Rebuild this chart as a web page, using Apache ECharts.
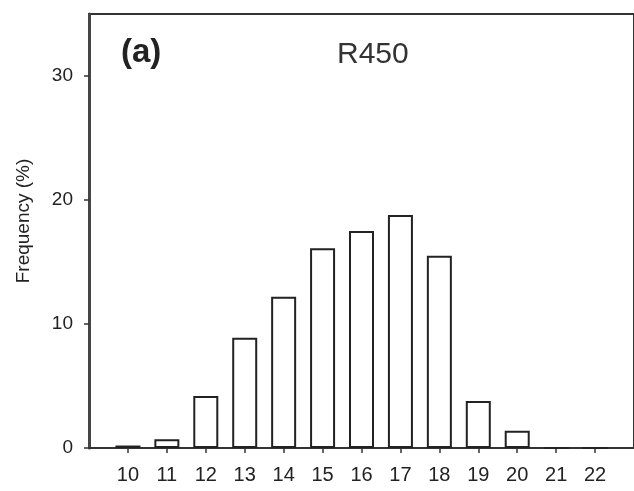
<!DOCTYPE html>
<html>
<head>
<meta charset="utf-8">
<script src="https://cdn.jsdelivr.net/npm/echarts@6/dist/echarts.min.js"></script>
<style>html,body{margin:0;padding:0;background:#fff;}#c{width:634px;height:491px;}</style>
</head>
<body>
<div id="c"></div>
<script>
var categories = [10, 11, 12, 13, 14, 15, 16, 17, 18, 19, 20, 21, 22];
var frequency = [0.2, 0.7, 4.2, 8.9, 12.2, 16.1, 17.5, 18.8, 15.5, 3.8, 1.4, 0, 0];
var yTicks = [0, 10, 20, 30];
var panelLabel = '(a)';
var titleText = 'R450';
var yAxisName = 'Frequency (%)';

var chart = echarts.init(document.getElementById('c'), null, {renderer: 'canvas'});
var font = 'Liberation Sans, Arial, sans-serif';
chart.setOption({
  animation: false,
  backgroundColor: '#fff',
  grid: {left: 89, top: 14, width: 546, bottom: 43, show: true, borderColor: '#333', borderWidth: 2, backgroundColor: 'transparent'},
  xAxis: {
    type: 'value', min: 9, max: 23, interval: 1,
    splitLine: {show: false},
    axisLine: {show: true, lineStyle: {color: '#333', width: 2}},
    axisTick: {show: true, length: 5, lineStyle: {color: '#333', width: 1.5}, customValues: categories},
    axisLabel: {customValues: categories, color: '#222', fontFamily: font, fontSize: 20, margin: 17,
      formatter: function (v) { return categories.indexOf(v) >= 0 ? String(v) : ''; }}
  },
  yAxis: {
    type: 'value', min: 0, max: 35, interval: 10,
    splitLine: {show: false},
    axisLine: {show: true, lineStyle: {color: '#444', width: 3}},
    axisTick: {show: true, length: 5, lineStyle: {color: '#333', width: 1.5}, customValues: yTicks},
    axisLabel: {customValues: yTicks, color: '#222', fontFamily: font, fontSize: 19, margin: 16,
      formatter: function (v) { return yTicks.indexOf(v) >= 0 ? String(v) : ''; }}
  },
  series: [{
    type: 'bar',
    barWidth: 25,
    data: categories.map(function (c, i) { return [c, frequency[i]]; }),
    itemStyle: {color: '#fff', borderColor: '#222', borderWidth: 2}
  }],
  graphic: [
    {type: 'text', left: 121, top: 36, style: {text: panelLabel, font: 'bold 33px ' + font, fill: '#222'}},
    {type: 'text', left: 337, top: 40, style: {text: titleText, font: '30px ' + font, fill: '#333'}},
    {type: 'text', x: 24, y: 221, rotation: Math.PI / 2,
      style: {text: yAxisName, font: '19px ' + font, fill: '#222', textAlign: 'center', textVerticalAlign: 'middle'}}
  ]
});
</script>
</body>
</html>
